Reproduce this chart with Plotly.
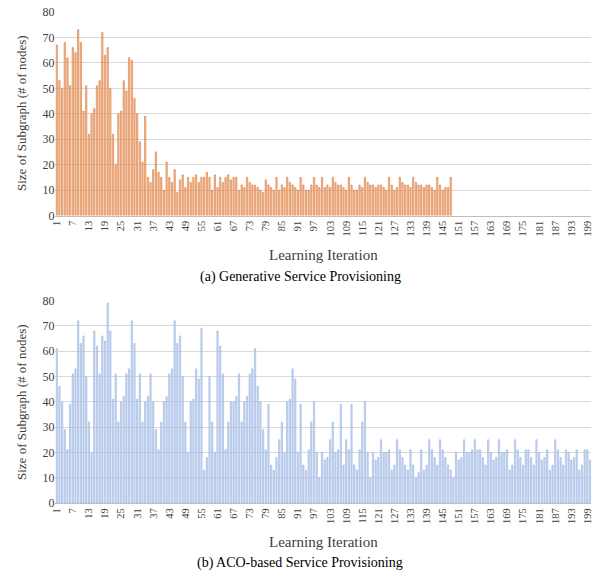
import plotly.graph_objects as go

# ---------------- data ----------------
gen_iterations = list(range(1, 149))
gen_sizes = [
    67, 53, 50, 68, 62, 51, 66, 64, 73, 68,
    41, 51, 32, 40, 42, 51, 53, 72, 63, 66,
    50, 32, 20, 40, 41, 53, 49, 62, 61, 46,
    40, 29, 21, 39, 15, 13, 18, 25, 17, 15,
    10, 21, 15, 13, 18, 9, 14, 16, 11, 15,
    13, 15, 16, 13, 15, 15, 17, 15, 10, 16,
    11, 15, 13, 15, 16, 14, 15, 15, 10, 12,
    11, 15, 13,
    12, 12, 11, 10, 9, 14, 12, 11, 10, 15,
    10, 12, 11, 15, 13, 12, 11, 10, 15, 12,
    10, 10, 12, 15, 12, 11, 15, 11, 12, 11,
    15, 13,
    12, 12, 11, 10, 15, 12, 10, 10, 12, 11,
    15, 13, 12, 12, 11, 12, 12, 11, 10, 15,
    12, 10, 11, 15, 13, 12, 12, 11, 15, 13,
    12, 12, 11, 12, 12, 11, 10, 15, 12, 10,
    11, 11, 15,
]

aco_iterations = list(range(1, 201))
aco_sizes = [
    61, 46, 40, 29, 21, 39, 51, 53, 72, 63,
    66, 50, 32, 20, 68, 62, 51, 66, 64, 79,
    68, 41, 51, 32, 40, 42, 51, 53, 72, 63,
    41, 51, 32, 40, 42, 51, 40, 29, 21, 32,
    40, 42, 51, 53, 72, 63, 66, 50, 32, 20,
    40, 41, 53, 49, 69, 13, 18, 50, 32, 20,
    68, 62, 51, 21, 32, 40, 40, 42, 51, 32,
    40, 42, 51, 53, 61, 46, 40, 29, 21, 39,
    15, 13, 18, 25, 32, 20, 40, 41, 53, 49,
    20, 39, 15, 13, 21, 32, 40, 20, 10, 20,
    17, 18, 25, 32, 20, 21, 39, 15, 25, 21,
    39, 15, 13, 21, 32, 40, 20, 10, 20, 17,
    18, 25, 20, 20, 21, 13, 15, 25, 21, 18,
    15, 13, 21, 15, 10, 12, 21, 13, 15, 25,
    21, 18, 15, 25, 21, 18, 15, 13, 10, 20,
    17, 18, 25, 20, 20, 21, 25, 21, 21, 18,
    15, 25, 20, 17, 18, 25, 20, 20, 21, 13,
    15, 25, 21, 18, 15, 21, 21, 18, 15, 25,
    20, 17, 18, 21, 13, 15, 25, 21, 18, 15,
    21, 20, 17, 18, 21, 13, 15, 21, 21, 17,
]

tick_vals = list(range(1, 201, 6))
tick_text = [str(v) for v in tick_vals]
y_ticks = [0, 10, 20, 30, 40, 50, 60, 70, 80]

caption_top = "(a) Generative Service Provisioning"
caption_bottom = "(b) ACO-based Service Provisioning"
x_title = "Learning Iteration"
y_title = "Size of Subgraph (# of nodes)"

# ---------------- figure ----------------
W, H = 600, 573
FONT = "Liberation Serif, Times New Roman, serif"

def fy(px):
    return 1 - px / H

fig = go.Figure()
fig.add_trace(go.Bar(
    x=gen_iterations, y=gen_sizes, xaxis="x", yaxis="y",
    marker=dict(color="#F5C3A0", line=dict(color="#D5651C", width=0.5)),
    showlegend=False,
))
fig.add_trace(go.Bar(
    x=aco_iterations, y=aco_sizes, xaxis="x2", yaxis="y2",
    marker=dict(color="#CCDAF1", line=dict(color="#8EABDF", width=0.5)),
    showlegend=False,
))

xdom = [55.4 / W, 591.4 / W]
common_x = dict(
    range=[0.5, 200.5], tickmode="array", tickvals=tick_vals, ticktext=tick_text,
    tickangle=-90, tickfont=dict(family=FONT, size=10.5, color="#404040"),
    showgrid=False, showline=True, linecolor="#BFBFBF", linewidth=1,
    ticks="", zeroline=False, fixedrange=True, automargin=False,
)
common_y = dict(
    range=[0, 80], tickmode="array", tickvals=y_ticks,
    tickfont=dict(family=FONT, size=12, color="#404040"),
    showgrid=True, gridcolor="#D9D9D9", gridwidth=1, showline=False,
    zeroline=False, ticks="", fixedrange=True, automargin=False,
)

fig.update_layout(
    width=W, height=H,
    margin=dict(l=0, r=0, t=0, b=0, autoexpand=False),
    paper_bgcolor="white", plot_bgcolor="white",
    bargap=0.5,
    xaxis=dict(domain=xdom, anchor="y", **common_x),
    yaxis=dict(domain=[fy(215.5), fy(12)], anchor="x", **common_y),
    xaxis2=dict(domain=xdom, anchor="y2", **common_x),
    yaxis2=dict(domain=[fy(503), fy(300.5)], anchor="x2", **common_y),
)

ann = []
for (yc, txt) in [(113, y_title), (402, y_title)]:
    ann.append(dict(x=21 / W, y=fy(yc), xref="paper", yref="paper", text=txt,
                    textangle=-90, showarrow=False, xanchor="center", yanchor="middle",
                    font=dict(family=FONT, size=13, color="#404040")))
for (yc, txt) in [(255, x_title), (542, x_title)]:
    ann.append(dict(x=323 / W, y=fy(yc), xref="paper", yref="paper", text=txt,
                    showarrow=False, xanchor="center", yanchor="middle",
                    font=dict(family=FONT, size=15, color="#404040")))
for (yc, txt) in [(277, caption_top), (563, caption_bottom)]:
    ann.append(dict(x=300 / W, y=fy(yc), xref="paper", yref="paper", text=txt,
                    showarrow=False, xanchor="center", yanchor="middle",
                    font=dict(family=FONT, size=14, color="#000000")))
fig.update_layout(annotations=ann)

fig.write_html(
    "out.html",
    config={"displayModeBar": False, "staticPlot": True},
    post_script="document.body.style.margin='0';document.body.style.overflow='hidden';",
)
